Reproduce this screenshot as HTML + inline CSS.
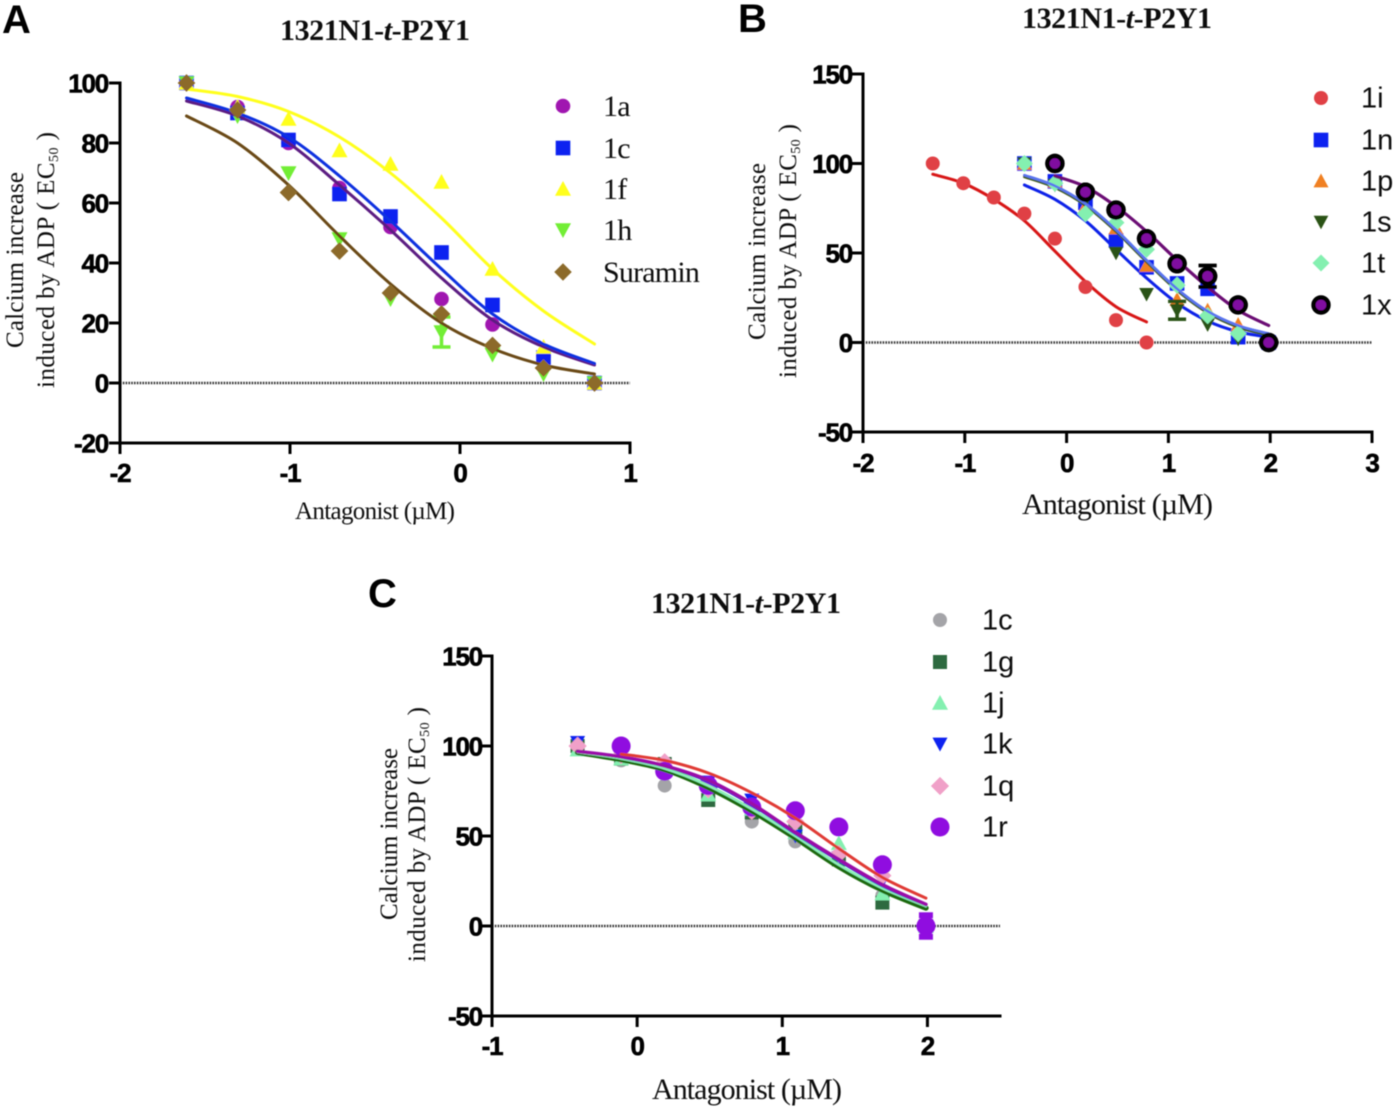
<!DOCTYPE html>
<html lang="en">
<head>
<meta charset="utf-8">
<title>1321N1-t-P2Y1 antagonist dose-response curves</title>
<style>
html,body{margin:0;padding:0;background:#fff;width:1400px;height:1111px;overflow:hidden}
svg{display:block}
.serif{font-family:"Liberation Serif",serif}
.sans{font-family:"Liberation Sans",sans-serif}
.panel-letter{font-family:"Liberation Sans",sans-serif;font-weight:700;font-size:40px;fill:#000}
.chart-title{font-family:"Liberation Serif",serif;font-weight:700;font-size:30px;fill:#111}
.axis-title{font-family:"Liberation Serif",serif;fill:#111}
.tick-label{font-family:"Liberation Sans",sans-serif;font-weight:700;font-size:26px;fill:#000;stroke:#000;stroke-width:.6px;letter-spacing:-1.2px}
</style>
</head>
<body>
<svg id="figure" xmlns="http://www.w3.org/2000/svg" width="1400" height="1111" viewBox="0 0 1400 1111">
<defs><filter id="soft" x="-2%" y="-2%" width="104%" height="104%"><feGaussianBlur stdDeviation="0.6"/></filter></defs>
<g id="root" filter="url(#soft)">
<text class="panel-letter" x="2" y="33">A</text>
<text class="panel-letter" x="738" y="32">B</text>
<text class="panel-letter" x="368" y="607">C</text>

<text class="chart-title" x="280" y="40" textLength="190" lengthAdjust="spacing">1321N1-<tspan font-style="italic">t</tspan>-P2Y1</text>
<text class="chart-title" x="1022" y="28" textLength="190" lengthAdjust="spacing">1321N1-<tspan font-style="italic">t</tspan>-P2Y1</text>
<text class="chart-title" x="651" y="613" textLength="190" lengthAdjust="spacing">1321N1-<tspan font-style="italic">t</tspan>-P2Y1</text>

<text class="axis-title" x="295" y="519" font-size="25" textLength="160" lengthAdjust="spacing">Antagonist (µM)</text>
<text class="axis-title" x="1022" y="514" font-size="30" textLength="191" lengthAdjust="spacing">Antagonist (µM)</text>
<text class="axis-title" x="652" y="1099" font-size="30" textLength="190" lengthAdjust="spacing">Antagonist (µM)</text>

<text class="axis-title" transform="translate(23,348) rotate(-90)" font-size="25" textLength="176" lengthAdjust="spacing">Calcium increase</text>
<text class="axis-title" transform="translate(54,388) rotate(-90)" font-size="25" textLength="256" lengthAdjust="spacing">induced by ADP ( EC<tspan font-size="14" dy="4">50</tspan><tspan dy="-4"> )</tspan></text>

<text class="axis-title" transform="translate(765,340) rotate(-90)" font-size="25" textLength="177" lengthAdjust="spacing">Calcium increase</text>
<text class="axis-title" transform="translate(796,378) rotate(-90)" font-size="25" textLength="254" lengthAdjust="spacing">induced by ADP ( EC<tspan font-size="14" dy="4">50</tspan><tspan dy="-4"> )</tspan></text>

<text class="axis-title" transform="translate(397,920) rotate(-90)" font-size="25" textLength="172" lengthAdjust="spacing">Calcium increase</text>
<text class="axis-title" transform="translate(425,962) rotate(-90)" font-size="25" textLength="255" lengthAdjust="spacing">induced by ADP ( EC<tspan font-size="14" dy="4">50</tspan><tspan dy="-4"> )</tspan></text>
</g>
</svg>
<script>
// ---------- Panel A data ----------
const panelAXTicks = [-2, -1, 0, 1];
const panelAYTicks = [-20, 0, 20, 40, 60, 80, 100];
const panelADoses = [-1.6, -1.3, -1, -0.7, -0.4, -0.1, 0.2, 0.5, 0.8];
const a1aPoints = [100, 92, 80, 65, 52, 28, 19.5, 9, 0];
const a1aCurve = [94, 89, 80, 66, 51, 35, 21, 12, 6];
const a1cPoints = [100, 90, 81, 63, 55.5, 43.5, 26, 8.5, 0];
const a1cCurve = [95, 90, 82, 69, 54, 38, 23, 13, 6.5];
const a1fPoints = [100, 92, 88, 77.5, 73, 67, 38, 12, 0];
const a1fCurve = [98, 95.5, 90.5, 82, 70, 55, 38, 24, 13];
const a1hPoints = [100, 89, 70, 48, 28, 17, 9.5, 3, 0];
const a1hCurve = [89, 80, 66, 49, 33, 20, 11.5, 6, 3];
const a1hErrors = [0, 0, 0, 0, 0, 5, 0, 0, 0];
const aSuraminPoints = [100, 91, 63.5, 44, 30, 23, 12.5, 5, 0];
const aSuraminCurve = [89, 80, 66, 49, 33, 20, 11.5, 6, 3];

// ---------- Panel B data ----------
const panelBXTicks = [-2, -1, 0, 1, 2, 3];
const panelBYTicks = [-50, 0, 50, 100, 150];
const panelB1iDoses = [-1.3, -1, -0.7, -0.4, -0.1, 0.2, 0.5, 0.8];
const panelBDoses = [-0.4, -0.1, 0.2, 0.5, 0.8, 1.1, 1.4, 1.7, 2];
const b1iPoints = [100, 89, 81, 72, 58, 31, 12.5, 0];
const b1iCurve = [94, 89, 80, 68, 51, 34, 20, 11.5];
const b1nPoints = [100, 90, 78, 57, 42, 33, 30, 3, 0];
const b1nCurve = [88, 80, 68, 52, 36, 22, 12, 6, 3];
const b1pPoints = [100, 90, 76, 64, 43, 24, 18, 10, 0];
const b1pCurve = [93, 87, 77, 62.5, 45.5, 29.5, 17, 9, 4.5];
const b1sPoints = [100, 88, 79, 50, 27, 18, 10, 2, 0];
const b1sCurve = [92.5, 86.5, 76.5, 62, 45, 29, 16.5, 8.5, 4];
const b1sErrors = [0, 0, 0, 0, 0, 5, 0, 0, 0];
const b1tPoints = [100, 89, 72, 67, 52, 32, 15, 5, 0];
const b1tCurve = [93.5, 87.5, 77.5, 63, 46, 30, 17.5, 9.5, 5];
const b1xPoints = [null, 100, 84, 74, 58, 44, 37, 21, 0];
const b1xCurve = [null, 93, 87, 76, 62, 46, 31, 18, 9.5];
const b1xErrors = [0, 0, 0, 0, 0, 0, 6, 0, 0];

// ---------- Panel C data ----------
const panelCXTicks = [-1, 0, 1, 2];
const panelCYTicks = [-50, 0, 50, 100, 150];
const panelCDoses = [-0.4, -0.1, 0.2, 0.5, 0.8, 1.1, 1.4, 1.7, 2];
const c1cPoints = [100, 92, 78, 72, 58, 47, 37, 17, 0];
const c1cCurve = [96.5, 92.5, 87, 77, 64, 49, 33, 20, 10];
const c1gPoints = [100, 93, 90, 70, 63, 53, 37, 13, 0];
const c1gCurve = [96.5, 92.5, 87, 77, 64, 49, 33, 20, 10];
const c1jPoints = [98, 93, 88, 73, 65, 52, 46, 18, 0];
const c1jCurve = [96.5, 93, 87.5, 78, 65, 50, 34, 21, 11];
const c1kPoints = [102, 95, 88, 80, 70, 50, 38, 25, 0];
const c1kCurve = [97, 93.5, 88.5, 80, 67, 51, 36, 22, 11.5];
const c1qPoints = [100, 95, 91, 76, 64, 58, 40, 28, 0];
const c1qCurve = [97, 94, 89, 81, 68, 52, 37, 23, 12];
const c1rPoints = [null, 100, 86, 78, 66, 64, 55, 34, 0];
const c1rCurve = [null, 95.5, 92, 85, 74, 60, 43, 27, 15.5];
const c1rErrors = [0, 0, 0, 0, 0, 0, 0, 0, 6];

const SVGNS = 'http://www.w3.org/2000/svg';
const root = document.getElementById('root');

function node(tag, attrs, parent) {
  const e = document.createElementNS(SVGNS, tag);
  for (const k in attrs) e.setAttribute(k, attrs[k]);
  parent.appendChild(e);
  return e;
}

function scale(d0, d1, p0, p1) {
  return v => p0 + (v - d0) * (p1 - p0) / (d1 - d0);
}

function shape(kind, cx, cy, r, fill, parent, stroke, sw) {
  let e;
  const base = { fill: fill };
  if (stroke) { base.stroke = stroke; base['stroke-width'] = sw; }
  if (kind === 'circle') {
    e = node('circle', Object.assign({ cx: cx, cy: cy, r: r }, base), parent);
  } else if (kind === 'square') {
    e = node('rect', Object.assign({ x: cx - r, y: cy - r, width: 2 * r, height: 2 * r }, base), parent);
  } else {
    let pts;
    if (kind === 'up') pts = [[cx, cy - r], [cx + r, cy + r * .85], [cx - r, cy + r * .85]];
    if (kind === 'down') pts = [[cx, cy + r], [cx + r, cy - r * .85], [cx - r, cy - r * .85]];
    if (kind === 'diamond') pts = [[cx, cy - r * 1.25], [cx + r * 1.25, cy], [cx, cy + r * 1.25], [cx - r * 1.25, cy]];
    e = node('polygon', Object.assign({ points: pts.map(p => p.join(',')).join(' ') }, base), parent);
  }
  return e;
}

function curvePath(pts) {
  let d = 'M' + pts[0][0].toFixed(2) + ' ' + pts[0][1].toFixed(2);
  for (let i = 0; i < pts.length - 1; i++) {
    const p0 = pts[Math.max(0, i - 1)], p1 = pts[i], p2 = pts[i + 1], p3 = pts[Math.min(pts.length - 1, i + 2)];
    const c1 = [p1[0] + (p2[0] - p0[0]) / 6, p1[1] + (p2[1] - p0[1]) / 6];
    const c2 = [p2[0] - (p3[0] - p1[0]) / 6, p2[1] - (p3[1] - p1[1]) / 6];
    d += 'C' + c1[0].toFixed(2) + ' ' + c1[1].toFixed(2) + ' ' + c2[0].toFixed(2) + ' ' + c2[1].toFixed(2) + ' ' + p2[0].toFixed(2) + ' ' + p2[1].toFixed(2);
  }
  return d;
}

function drawAxes(id, g, xScale, yScale, xTicks, yTicks, x0, x1, y0, y1, xLabelY, yLabelX) {
  const zero = node('line', { x1: x0, x2: x1, y1: yScale(0), y2: yScale(0), stroke: '#333', 'stroke-width': 2.6, 'stroke-dasharray': '1.6 1.2' }, g);
  
  
  const xAxis = node('line', { x1: x0 - 1.5, x2: x1 + 1.5, y1: y0, y2: y0, stroke: '#000', 'stroke-width': 3 }, g);
  
  
  const yAxis = node('line', { x1: x0, x2: x0, y1: y1 - 1.5, y2: y0 + 1.5, stroke: '#000', 'stroke-width': 3 }, g);
  
  
  xTicks.forEach(t => {
    const tick = node('line', { x1: xScale(t), x2: xScale(t), y1: y0, y2: y0 + 11, stroke: '#000', 'stroke-width': 3 }, g);
    
    
    const label = node('text', { x: xScale(t), y: xLabelY, 'text-anchor': 'middle', class: 'tick-label' }, g);
    
    
    label.textContent = t;
  });
  yTicks.forEach(t => {
    const tick = node('line', { x1: x0 - 11, x2: x0, y1: yScale(t), y2: yScale(t), stroke: '#000', 'stroke-width': 3 }, g);
    
    
    const label = node('text', { x: yLabelX, y: yScale(t) + 9.5, 'text-anchor': 'end', class: 'tick-label' }, g);
    
    
    label.textContent = t;
  });
}

function drawCurve(s, doses, xScale, yScale, g) {
  const pts = [];
  s.curve.forEach((v, i) => { if (v !== null) pts.push([xScale(doses[i]), yScale(v)]); });
  const path = node('path', { d: curvePath(pts), fill: 'none', stroke: s.line, 'stroke-width': s.lw || 3, 'stroke-linecap': 'round' }, g);
  
  
}

function drawMarks(s, doses, xScale, yScale, g) {
  s.points.forEach((v, i) => {
    if (v === null) return;
    const cx = xScale(doses[i]), cy = yScale(v);
    const err = s.errors ? s.errors[i] : 0;
    if (err > 0) {
      const ec = s.stroke || s.fill;
      const cap = s.cap || 9;
      const bar = node('path', {
        d: 'M' + cx + ' ' + yScale(v - err) + 'V' + yScale(v + err) +
           'M' + (cx - cap) + ' ' + yScale(v - err) + 'h' + (2 * cap) + 'M' + (cx - cap) + ' ' + yScale(v + err) + 'h' + (2 * cap),
        stroke: ec, 'stroke-width': s.barW || 3.5, fill: 'none'
      }, g);
      
      
    }
    const m = shape(s.kind, cx, cy, s.r, s.fill, g, s.stroke, s.sw);
    
    
  });
}

function drawLegend(series, x, ys, textX, fontClass, fontSize, g) {
  series.forEach((s, i) => {
    const m = shape(s.kind, x, ys[i], s.legendR || s.r, s.fill, g, s.stroke, s.sw);
    
    
    const t = node('text', { x: textX, y: ys[i] + fontSize * .33, 'font-size': fontSize, class: fontClass, fill: '#111' }, g);
    
    
    if (fontClass === 'serif') t.setAttribute('letter-spacing', '-0.8');
    t.textContent = s.label;
  });
}

// ---------- Panel A ----------
const gA = node('g', {}, root);


const xA = scale(-2, 1, 120, 630), yA = scale(-20, 100, 443, 83);
const xAMarks = scale(-2, 1, 118.5, 628.5);
const seriesA = [
  { name: '1a', label: '1a', kind: 'circle', r: 7.3, fill: '#a012b0', line: '#5c1a82', points: a1aPoints, curve: a1aCurve },
  { name: '1c', label: '1c', kind: 'square', r: 7.3, fill: '#0a22f0', line: '#1030e0', points: a1cPoints, curve: a1cCurve },
  { name: '1f', label: '1f', kind: 'up', r: 8, fill: '#ffff1e', line: '#ffff1e', points: a1fPoints, curve: a1fCurve },
  { name: '1h', label: '1h', kind: 'down', r: 8, fill: '#72ee36', line: '#72ee36', lw: 2, points: a1hPoints, curve: a1hCurve, errors: a1hErrors },
  { name: 'suramin', label: 'Suramin', kind: 'diamond', r: 7, fill: '#8c6a2c', line: '#6a4a14', points: aSuraminPoints, curve: aSuraminCurve }
];
drawAxes('a', gA, xA, yA, panelAXTicks, panelAYTicks, 120, 630, 443, 83, 482, 108);
seriesA.forEach(s => drawMarks(s, panelADoses, xAMarks, yA, gA));
seriesA.forEach(s => drawCurve(s, panelADoses, xAMarks, yA, gA));
drawMarks(seriesA[4], panelADoses, xAMarks, yA, gA);
drawLegend(seriesA, 563, [106, 148, 189, 230, 272], 603, 'serif', 30, gA);

// ---------- Panel B ----------
const gB = node('g', {}, root);


const xB = scale(-2, 3, 863, 1372), yB = scale(-50, 150, 432, 74);
const xBMarks = scale(-2, 3, 861.5, 1370.5);
const seriesB = [
  { name: '1i', label: '1i', kind: 'circle', r: 7, fill: '#e04044', line: '#d81818', points: b1iPoints, curve: b1iCurve, doses: panelB1iDoses },
  { name: '1n', label: '1n', kind: 'square', r: 7.3, fill: '#0a22f0', line: '#0a22e8', points: b1nPoints, curve: b1nCurve },
  { name: '1p', label: '1p', kind: 'up', r: 7.5, fill: '#f08020', line: '#c08a20', lw: 2.5, points: b1pPoints, curve: b1pCurve },
  { name: '1s', label: '1s', kind: 'down', r: 7.3, fill: '#2a5212', line: '#3f5a14', lw: 2.5, errors: b1sErrors, points: b1sPoints, curve: b1sCurve },
  { name: '1t', label: '1t', kind: 'diamond', r: 6.8, fill: '#84f0b0', line: '#5a74ee', lw: 2.5, points: b1tPoints, curve: b1tCurve },
  { name: '1x', label: '1x', kind: 'circle', r: 7.5, fill: '#8010a0', stroke: '#000', sw: 4.4, line: '#6c1074', errors: b1xErrors, points: b1xPoints, curve: b1xCurve }
];
drawAxes('b', gB, xB, yB, panelBXTicks, panelBYTicks, 863, 1372, 432, 74, 472, 852);
seriesB.forEach(s => {
  const d = s.doses || panelBDoses;
  drawCurve(s, d, xBMarks, yB, gB);
  drawMarks(s, d, xBMarks, yB, gB);
});
drawCurve(seriesB[4], panelBDoses, xBMarks, yB, gB);
drawCurve(seriesB[5], panelBDoses, xBMarks, yB, gB);
drawMarks(seriesB[5], panelBDoses, xBMarks, yB, gB);
drawLegend(seriesB, 1321, [98, 140, 181, 222, 263, 305], 1361, 'sans', 29, gB);

// ---------- Panel C ----------
const gC = node('g', {}, root);


const xC = scale(-1, 2.5, 492, 1000), yC = scale(-50, 150, 1016, 656);
const xCMarks = scale(-1, 2.5, 490.5, 998.5);
const seriesC = [
  { name: '1c', label: '1c', kind: 'circle', r: 7, fill: '#a4a4a8', line: '#8a8a8a', lw: 2, points: c1cPoints, curve: c1cCurve },
  { name: '1g', label: '1g', kind: 'square', r: 7, fill: '#2f6a40', line: '#1f6a10', lw: 5.5, points: c1gPoints, curve: c1gCurve },
  { name: '1j', label: '1j', kind: 'up', r: 8, fill: '#84f0b0', line: '#8cf2ba', lw: 2.5, points: c1jPoints, curve: c1jCurve },
  { name: '1k', label: '1k', kind: 'down', r: 7.5, fill: '#0a22f0', line: '#2a30d0', lw: 2, points: c1kPoints, curve: c1kCurve },
  { name: '1q', label: '1q', kind: 'diamond', r: 7.3, fill: '#f0a0c8', line: '#9a10a8', lw: 3.5, points: c1qPoints, curve: c1qCurve },
  { name: '1r', label: '1r', kind: 'circle', r: 9.5, fill: '#9010e0', line: '#e03a34', lw: 3, errors: c1rErrors, cap: 7, barW: 6, points: c1rPoints, curve: c1rCurve }
];
drawAxes('c', gC, xC, yC, panelCXTicks, panelCYTicks, 492, 1000, 1016, 656, 1055, 482);
seriesC.forEach(s => drawMarks(s, panelCDoses, xCMarks, yC, gC));
seriesC.forEach(s => drawCurve(s, panelCDoses, xCMarks, yC, gC));
drawLegend(seriesC, 940, [620, 662, 703, 744, 786, 827], 982, 'sans', 29, gC);
</script>
</body>
</html>
